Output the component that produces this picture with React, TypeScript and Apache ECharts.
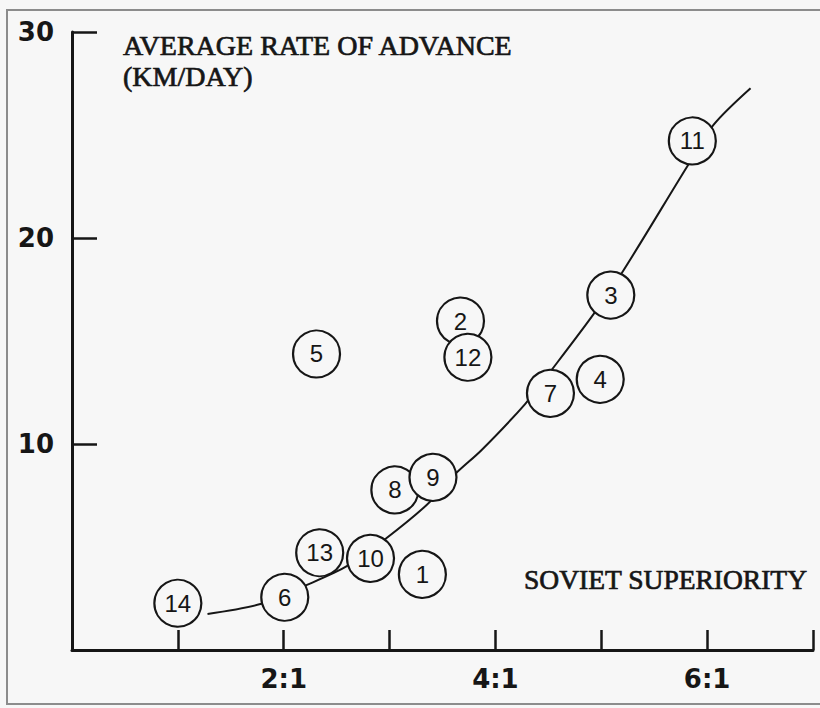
import React, { useEffect, useRef } from 'react';
import * as echarts from 'echarts';

// Case numbers (circles) and their positions
const caseIds = ['14', '13', '6', '10', '1', '8', '9', '7', '4', '2', '12', '5', '3', '11'];
const superiority = [1.0, 2.34, 2.01, 2.82, 3.31, 3.05, 3.41, 4.52, 4.99, 3.67, 3.74, 2.31, 5.09, 5.86];
const advanceRate = [2.27, 4.72, 2.56, 4.45, 3.67, 7.77, 8.38, 12.46, 13.14, 15.97, 14.21, 14.37, 17.23, 24.71];

// Hand-drawn trend curve
const trendX = [1.28, 1.78, 2.22, 2.6, 2.96, 3.35, 3.62, 3.87, 4.28, 4.53, 4.91, 5.2, 5.81, 6.06, 6.41];
const trendY = [1.75, 2.23, 3.16, 4.08, 5.39, 7.04, 8.54, 9.71, 11.94, 13.59, 16.18, 18.35, 23.46, 25.49, 27.27];

// Tick labels
const xTickValues = [2, 4, 6];
const xTickLabels = ['2:1', '4:1', '6:1'];
const yTickValues = [10, 20, 30];
const yTickLabels = ['10', '20', '30'];

const titleLines = ['AVERAGE RATE OF ADVANCE', '(KM/DAY)'];
const xTitle = 'SOVIET SUPERIORITY';

const INK = '#161616';
const BG = '#f7f7f7';

const serifStyle = (text: string, size: number, align: string) => ({
  text,
  fontFamily: 'Liberation Serif',
  fontSize: size,
  fill: INK,
  stroke: INK,
  lineWidth: 0.7,
  align,
  textAlign: align,
  verticalAlign: 'middle',
  textVerticalAlign: 'middle',
});

export default function App() {
  const ref = useRef<HTMLDivElement>(null);
  useEffect(() => {
    const chart = echarts.init(ref.current!, null, { renderer: 'svg' });
    chart.setOption({
      animation: false,
      backgroundColor: BG,
      grid: { left: 72, top: 32, width: 741, height: 618 },
      xAxis: {
        type: 'value',
        min: 0,
        max: 7,
        interval: 1,
        axisLine: { show: true, onZero: false, lineStyle: { color: INK, width: 3 } },
        axisTick: { show: true, inside: true, length: 20, lineStyle: { color: INK, width: 2.5 } },
        axisLabel: {
          formatter: (v: number) => {
            const i = xTickValues.indexOf(v);
            return i >= 0 ? xTickLabels[i] : '';
          },
          margin: 29,
          verticalAlign: 'middle',
          fontFamily: 'DejaVu Sans',
          fontWeight: 'bold',
          fontSize: 26,
          color: INK,
        },
        splitLine: { show: false },
      },
      yAxis: {
        type: 'value',
        min: 0,
        max: 30,
        interval: 10,
        axisLine: { show: true, onZero: false, lineStyle: { color: INK, width: 3 } },
        axisTick: { show: true, inside: true, length: 25, lineStyle: { color: INK, width: 2.5 } },
        axisLabel: {
          formatter: (v: number) => {
            const i = yTickValues.indexOf(v);
            return i >= 0 ? yTickLabels[i] : '';
          },
          margin: 18,
          fontFamily: 'DejaVu Sans',
          fontWeight: 'bold',
          fontSize: 26,
          color: INK,
        },
        splitLine: { show: false },
      },
      series: [
        {
          type: 'line',
          data: trendX.map((x, i) => [x, trendY[i]]),
          smooth: 0.3,
          symbol: 'none',
          lineStyle: { color: INK, width: 2 },
          z: 2,
          silent: true,
        },
        {
          type: 'scatter',
          data: caseIds.map((id, i) => ({ name: id, value: [superiority[i], advanceRate[i]] })),
          symbol: 'circle',
          symbolSize: 47,
          itemStyle: { color: BG, borderColor: INK, borderWidth: 2.2, opacity: 1 },
          label: {
            show: true,
            position: 'inside',
            formatter: '{b}',
            fontFamily: 'Liberation Sans',
            fontSize: 24,
            color: INK,
          },
          z: 3,
          silent: true,
        },
      ],
      graphic: [
        {
          type: 'rect',
          shape: { x: 7, y: 10, width: 840, height: 694 },
          style: { fill: 'none', stroke: '#8c8c8c', lineWidth: 2 },
          silent: true,
          z: 0,
        },
        { type: 'text', x: 123, y: 45, style: serifStyle(titleLines[0], 28, 'left'), z: 5 },
        { type: 'text', x: 123, y: 76, style: serifStyle(titleLines[1], 28, 'left'), z: 5 },
        { type: 'text', x: 807, y: 579, style: serifStyle(xTitle, 27.5, 'right'), z: 5 },
      ],
    });
    return () => chart.dispose();
  }, []);
  return <div ref={ref} style={{ position: 'absolute', left: 0, top: 0, width: 820, height: 708 }} />;
}
